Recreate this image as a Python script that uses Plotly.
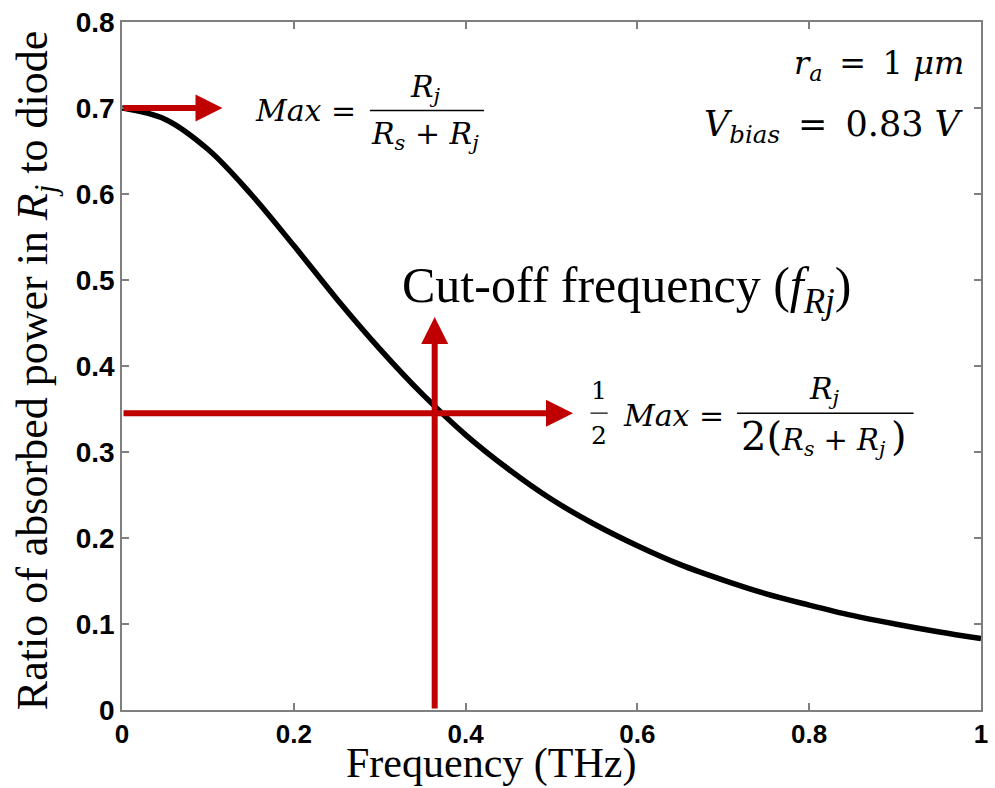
import plotly.graph_objects as go

# Data
freq_thz = [0.0, 0.05, 0.1, 0.15, 0.2, 0.25, 0.3, 0.35, 0.4, 0.45, 0.5,
            0.55, 0.6, 0.65, 0.7, 0.75, 0.8, 0.85, 0.9, 0.95, 1.0]
power_ratio = [0.700, 0.687, 0.652, 0.600, 0.540, 0.478, 0.420, 0.367, 0.320,
               0.280, 0.245, 0.216, 0.191, 0.169, 0.151, 0.135, 0.122, 0.110,
               0.100, 0.091, 0.083]

max_ratio = 0.70
half_max = 0.345
cutoff_f = 0.364

x_ticks = [0, 0.2, 0.4, 0.6, 0.8, 1]
x_tick_labels = ["0", "0.2", "0.4", "0.6", "0.8", "1"]
y_ticks = [0, 0.1, 0.2, 0.3, 0.4, 0.5, 0.6, 0.7, 0.8]
y_tick_labels = ["0", "0.1", "0.2", "0.3", "0.4", "0.5", "0.6", "0.7", "0.8"]

RED = "#c00000"
SERIF = "Liberation Serif"
MATH = "DejaVu Serif"

fig = go.Figure()
fig.add_trace(go.Scatter(x=freq_thz, y=power_ratio, mode="lines",
                         line=dict(color="black", width=5.5, shape="spline"),
                         showlegend=False, hoverinfo="skip"))

ann = []


def arrow(x0, y0, x1, y1):
    return dict(x=x1, y=y1, ax=x0, ay=y0, xref="x", yref="y", axref="x", ayref="y",
                text="", showarrow=True, arrowhead=2, arrowsize=0.9, arrowwidth=6,
                arrowcolor=RED, standoff=0, startstandoff=0)


ann.append(arrow(0, max_ratio, 0.117, max_ratio))
ann.append(arrow(0, half_max, 0.525, half_max))
ann.append(arrow(cutoff_f, 0, cutoff_f, 0.457))


def txt(x, y, s, size, xanchor="center", yanchor="middle", family=MATH):
    return dict(x=x, y=y, xref="x", yref="y", text=s, showarrow=False,
                xanchor=xanchor, yanchor=yanchor,
                font=dict(family=family, size=size, color="black"))


SP = "&#8201;"  # thin space

# Max = Rj/(Rs+Rj)
ann.append(txt(0.275, 0.697, "<i>Max</i> =", 30, xanchor="right"))
ann.append(txt(0.353, 0.723, "<i>R<sub>j</sub></i>", 30))
ann.append(txt(0.353, 0.668, "<i>R<sub>s</sub></i> + <i>R<sub>j</sub></i>", 30))

# 1/2 Max = Rj / 2(Rs+Rj)
ann.append(txt(0.5554, 0.372, "1", 25))
ann.append(txt(0.5554, 0.319, "2", 25))
ann.append(txt(0.703, 0.343, "<i>Max</i> =", 30, xanchor="right"))
ann.append(txt(0.8176, 0.372, "<i>R<sub>j</sub></i>", 30))
ann.append(txt(0.8176, 0.317,
               "<span style='font-size:40px'>2(</span><i>R<sub>s</sub></i> + <i>R<sub>j</sub></i>"
               + SP + "<span style='font-size:40px'>)</span>", 29))

# Cut-off label
ann.append(txt(0.324, 0.490, "Cut-off frequency (<i>f<sub>Rj</sub></i>)", 50,
               xanchor="left", family=SERIF))

# Parameters
ann.append(txt(0.983, 0.750, "<i>r<sub>a</sub></i> " + SP + "= " + SP + "1 <i>μm</i>", 32,
               xanchor="right"))
ann.append(txt(0.983, 0.679, "<i>V<sub>bias</sub></i> " + SP + "= " + SP + "0.83 <i>V</i>", 35,
               xanchor="right"))

# Axis titles
ann.append(dict(x=-0.1005, y=0.4935, xref="paper", yref="paper", showarrow=False,
                text="Ratio of absorbed power in <i>R<sub>j</sub></i> to diode", textangle=-90,
                xanchor="center", yanchor="middle",
                font=dict(family=SERIF, size=44, color="black")))
ann.append(dict(x=0.4296, y=-0.078, xref="paper", yref="paper", showarrow=False,
                text="Frequency (THz)", xanchor="center", yanchor="middle",
                font=dict(family=SERIF, size=42, color="black")))

shapes = [
    dict(type="line", xref="x", yref="y", x0=0.2887, x1=0.4215, y0=0.697, y1=0.697,
         line=dict(color="black", width=1.5)),
    dict(type="line", xref="x", yref="y", x0=0.716, x1=0.9215, y0=0.3452, y1=0.3452,
         line=dict(color="black", width=1.5)),
    dict(type="line", xref="x", yref="y", x0=0.5454, x1=0.5654, y0=0.3452, y1=0.3452,
         line=dict(color="black", width=1.2)),
]

axis_common = dict(showline=True, linecolor="#7f7f7f", linewidth=1.5, mirror="ticks",
                   ticks="inside", ticklen=7, tickcolor="#7f7f7f", tickwidth=1.5,
                   showgrid=False, zeroline=False)

fig.update_layout(
    width=995, height=788,
    margin=dict(l=122, r=7, t=17, b=78),
    paper_bgcolor="white", plot_bgcolor="white",
    xaxis=dict(range=[0, 1], tickvals=x_ticks, ticktext=x_tick_labels,
               tickfont=dict(family="Liberation Sans", size=26, color="black", weight="bold"),
               **axis_common),
    yaxis=dict(range=[0, 0.8], tickvals=y_ticks, ticktext=y_tick_labels,
               tickfont=dict(family="Liberation Sans", size=28, color="black", weight="bold"),
               **axis_common),
    annotations=ann, shapes=shapes,
)

fig.write_html("out.html")
